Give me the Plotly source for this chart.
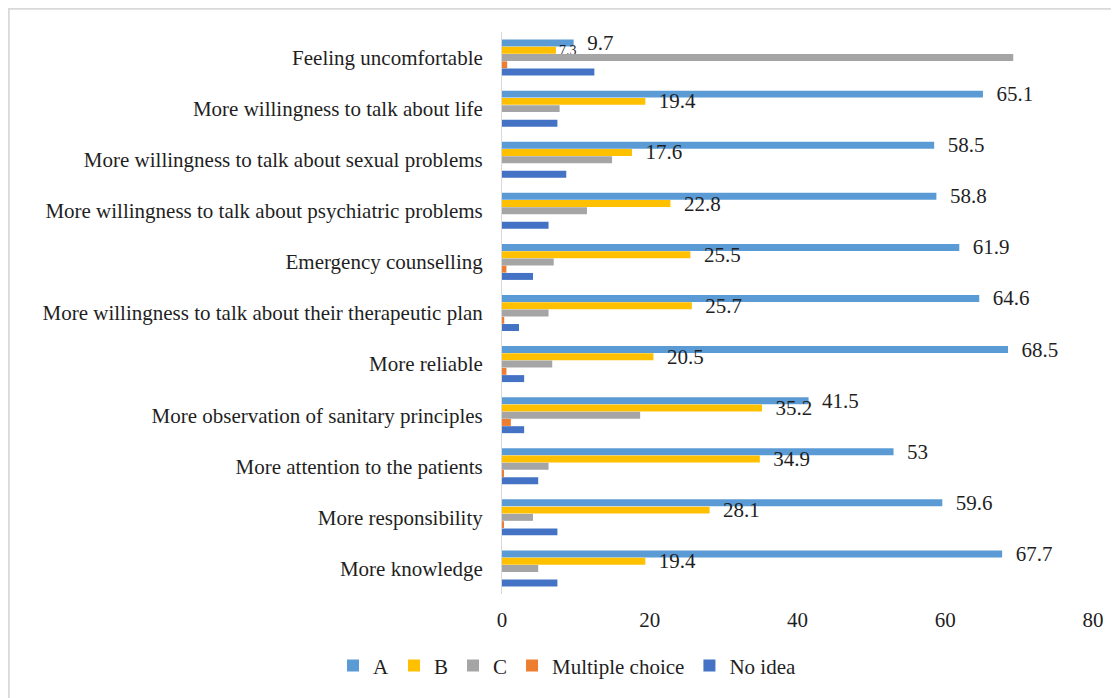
import plotly.graph_objects as go

categories = [
    "Feeling uncomfortable",
    "More willingness to talk about life",
    "More willingness to talk about sexual problems",
    "More willingness to talk about psychiatric problems",
    "Emergency counselling",
    "More willingness to talk about their therapeutic plan",
    "More reliable",
    "More observation of sanitary principles",
    "More attention to the patients",
    "More responsibility",
    "More knowledge",
]
series_names = ["A", "B", "C", "Multiple choice", "No idea"]
a_vals = [9.7, 65.1, 58.5, 58.8, 61.9, 64.6, 68.5, 41.5, 53, 59.6, 67.7]
b_vals = [7.3, 19.4, 17.6, 22.8, 25.5, 25.7, 20.5, 35.2, 34.9, 28.1, 19.4]
c_vals = [69.2, 7.8, 14.9, 11.5, 7.0, 6.3, 6.8, 18.7, 6.3, 4.2, 4.9]
mc_vals = [0.7, 0, 0, 0, 0.6, 0.3, 0.6, 1.2, 0.2, 0.2, 0]
noidea_vals = [12.5, 7.5, 8.7, 6.3, 4.2, 2.3, 3.0, 3.0, 4.9, 7.5, 7.5]
x_ticks = [0, 20, 40, 60, 80]

colors = ["#5B9BD5", "#FFC000", "#A5A5A5", "#ED7D31", "#4472C4"]
all_vals = [a_vals, b_vals, c_vals, mc_vals, noidea_vals]
show_text = [True, True, False, False, False]

FONT = "Liberation Serif"
TXT = "#1f1f1f"
FS = 21

W, H = 1111, 690
L, R, T, B = 494, 26, 24, 102
PW, PH = W - L - R, H - T - B

NB = "\u00a0"


def label_texts(series_idx, vals):
    out = []
    for i, v in enumerate(vals):
        pad = 2
        if i == 0 and series_idx == 1:
            pad = 0
        out.append(NB * pad + f"{v:g}")
    return out


def label_sizes(series_idx, vals):
    # the small "7.3" label sits just under "9.7"; shrink it so the two do not collide
    return [14 if (i == 0 and series_idx == 1) else FS for i in range(len(vals))]


fig = go.Figure()
for k, (name, vals, col, st) in enumerate(zip(series_names, all_vals, colors, show_text)):
    fig.add_trace(go.Bar(
        y=categories, x=vals, name=name, orientation="h",
        marker=dict(color=col, line=dict(width=0)),
        text=label_texts(k, vals) if st else None,
        textposition="outside" if st else "none",
        constraintext="none",
        textfont=dict(family=FONT, size=label_sizes(k, vals), color=TXT),
        cliponaxis=False,
    ))

fig.update_layout(
    width=W, height=H,
    margin=dict(l=L, r=R, t=T, b=B),
    paper_bgcolor="white", plot_bgcolor="white",
    barmode="group", bargap=0.29, bargroupgap=0.04,
    font=dict(family=FONT, size=FS, color=TXT),
    showlegend=True,
    legend=dict(orientation="h", x=(559 - L) / PW, xanchor="center",
                y=(PH + T - 660) / PH, yanchor="middle",
                font=dict(family=FONT, size=FS, color=TXT), itemwidth=30,
                traceorder="normal"),
    xaxis=dict(range=[0, 80], tickvals=x_ticks, showgrid=False, zeroline=False,
               showline=False, ticks="", ticklabelstandoff=11,
               tickfont=dict(family=FONT, size=FS, color=TXT)),
    yaxis=dict(autorange="reversed", showline=True, linecolor="#D9D9D9", linewidth=1,
               ticks="", ticklabelstandoff=14, showgrid=False,
               tickfont=dict(family=FONT, size=FS, color=TXT)),
    shapes=[dict(type="rect", xref="paper", yref="paper",
                 x0=(0.5 - L) / PW, x1=(W + 20 - L) / PW,
                 y0=(T + PH - (H + 20)) / PH, y1=(T + PH - 0.5) / PH,
                 line=dict(color="#D9D9D9", width=2.5), fillcolor="rgba(0,0,0,0)",
                 layer="below")],
)

fig.write_html("out.html")
